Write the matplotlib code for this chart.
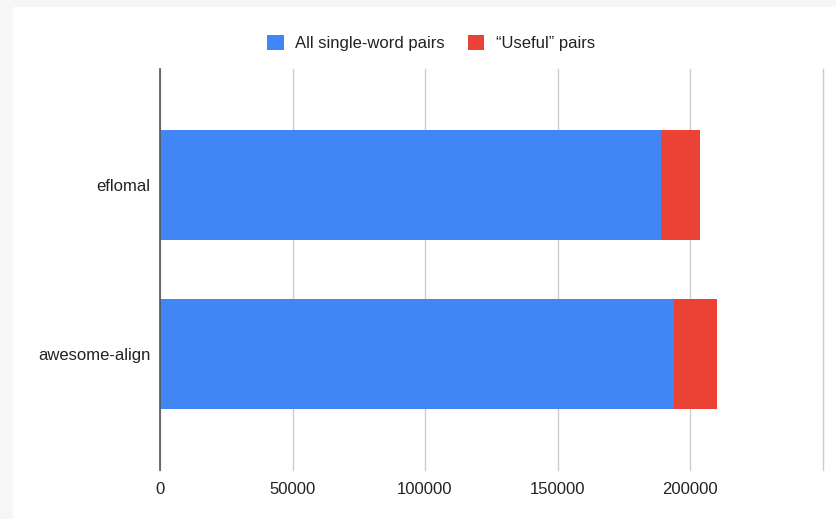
import matplotlib
matplotlib.use("Agg")
import matplotlib.pyplot as plt
from matplotlib.patches import Patch, Rectangle

plt.rcParams['font.family'] = ['Liberation Sans', 'DejaVu Sans']

categories = ["eflomal", "awesome-align"]
all_pairs = [189200, 193800]
useful_pairs = [14500, 16300]
series_names = ["All single-word pairs", "\u201cUseful\u201d pairs"]
colors = ["#4285F4", "#EA4335"]
xticks = [0, 50000, 100000, 150000, 200000]

W, H = 836, 519
fig = plt.figure(figsize=(W / 100, H / 100), dpi=100, facecolor="#f6f6f6")
fig.patches.append(Rectangle((13 / W, 0), 1, 1 - 7 / H, transform=fig.transFigure,
                             facecolor="white", edgecolor="none", zorder=-10))

left, right, top, bottom = 160, 822.5, 69, 470
ax = fig.add_axes([left / W, 1 - bottom / H, (right - left) / W, (bottom - top) / H])
ax.set_facecolor("white")

y = list(range(len(categories)))
ax.barh(y, all_pairs, height=0.653, color=colors[0], zorder=3)
ax.barh(y, useful_pairs, left=all_pairs, height=0.653, color=colors[1], zorder=3)

ax.set_xlim(0, 250000)
ax.set_ylim(1.685, -0.685)
ax.set_xticks(xticks + [250000])
ax.set_xticklabels([str(v) for v in xticks] + [""])
ax.set_yticks(y)
ax.set_yticklabels(categories)
ax.tick_params(axis="both", length=0, labelsize=12, colors="#222222")
ax.tick_params(axis="x", pad=9)
ax.tick_params(axis="y", pad=7)
ax.grid(axis="x", color="#cccccc", linewidth=1, zorder=0)
for gl in ax.get_xgridlines():
    gl.set_clip_on(False)
for s in ["top", "right", "bottom"]:
    ax.spines[s].set_visible(False)
ax.spines["left"].set_color("#555555")
ax.spines["left"].set_linewidth(1.2)
ax.spines["left"].set_zorder(4)

handles = [Patch(facecolor=c, edgecolor="none") for c in colors]
fig.legend(handles, series_names, loc="center", bbox_to_anchor=(431 / W, 1 - 43 / H),
           ncol=2, frameon=False, fontsize=12, handlelength=1.0, handleheight=1.0,
           handletextpad=0.7, columnspacing=1.35, labelcolor="#222222")

fig.savefig("out.png", dpi=100, facecolor=fig.get_facecolor())
